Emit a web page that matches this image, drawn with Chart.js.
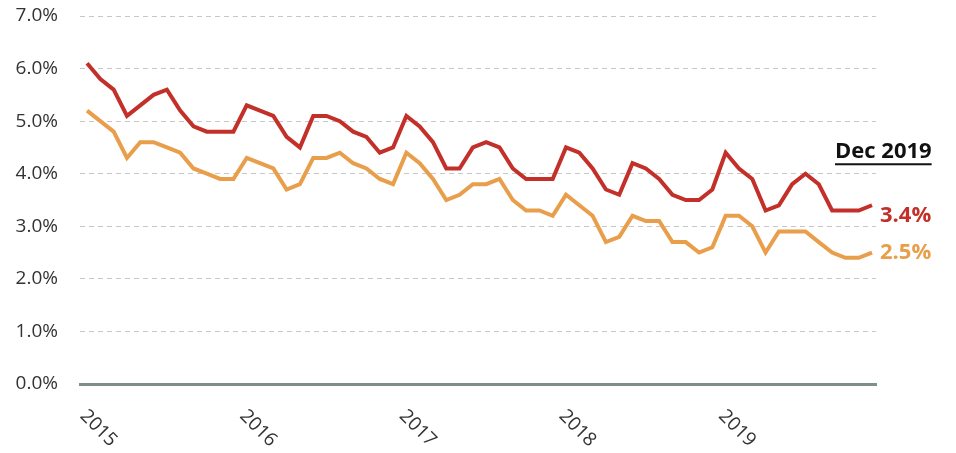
<!DOCTYPE html>
<html>
<head>
<meta charset="utf-8">
<script src="https://cdn.jsdelivr.net/npm/chart.js@4.4.1/dist/chart.umd.min.js"></script>
<style>
    html, body { margin: 0; padding: 0; background: #fff; }
    #wrap { width: 956px; height: 453px; }
</style>
</head>
<body>
<div id="wrap"><canvas id="chart" width="956" height="453"></canvas></div>
<script>
// Monthly rates, Jan 2015 – Dec 2019 (60 points each).
const YEARS = ['2015', '2016', '2017', '2018', '2019'];
const SERIES_HIGH = [
    6.1, 5.8, 5.6, 5.1, 5.3, 5.5, 5.6, 5.2, 4.9, 4.8, 4.8, 4.8,
    5.3, 5.2, 5.1, 4.7, 4.5, 5.1, 5.1, 5.0, 4.8, 4.7, 4.4, 4.5,
    5.1, 4.9, 4.6, 4.1, 4.1, 4.5, 4.6, 4.5, 4.1, 3.9, 3.9, 3.9,
    4.5, 4.4, 4.1, 3.7, 3.6, 4.2, 4.1, 3.9, 3.6, 3.5, 3.5, 3.7,
    4.4, 4.1, 3.9, 3.3, 3.4, 3.8, 4.0, 3.8, 3.3, 3.3, 3.3, 3.4,
];
const SERIES_LOW = [
    5.2, 5.0, 4.8, 4.3, 4.6, 4.6, 4.5, 4.4, 4.1, 4.0, 3.9, 3.9,
    4.3, 4.2, 4.1, 3.7, 3.8, 4.3, 4.3, 4.4, 4.2, 4.1, 3.9, 3.8,
    4.4, 4.2, 3.9, 3.5, 3.6, 3.8, 3.8, 3.9, 3.5, 3.3, 3.3, 3.2,
    3.6, 3.4, 3.2, 2.7, 2.8, 3.2, 3.1, 3.1, 2.7, 2.7, 2.5, 2.6,
    3.2, 3.2, 3.0, 2.5, 2.9, 2.9, 2.9, 2.7, 2.5, 2.4, 2.4, 2.5,
];
const Y_TICKS = [0, 1, 2, 3, 4, 5, 6, 7];
const END_LABEL = 'Dec 2019';

const RED = '#c3302a';
const ORANGE = '#e89e4a';
const FONT = "'Open Sans', 'DejaVu Sans', sans-serif";

const toPoints = arr => arr.map((v, i) => ({ x: i, y: v }));

// Rotated year labels (+45°) and the end-of-series annotations.
const overlayPlugin = {
    id: 'overlay',
    afterDraw(chart) {
        const ctx = chart.ctx;
        const xs = chart.scales.x;
        const ys = chart.scales.y;
        ctx.save();
        ctx.fillStyle = '#333';
        ctx.font = `19px ${FONT}`;
        ctx.textAlign = 'left';
        ctx.textBaseline = 'middle';
        YEARS.forEach((yr, i) => {
            const px = xs.getPixelForValue(i * 12);
            ctx.save();
            ctx.translate(px - 4, ys.bottom + 29);
            ctx.rotate(Math.PI / 4);
            ctx.fillText(yr, 0, 0);
            ctx.restore();
        });

        const last = SERIES_HIGH.length - 1;
        const lx = xs.getPixelForValue(last) + 8;
        ctx.font = `bold 22px ${FONT}`;
        ctx.fillStyle = RED;
        ctx.fillText(SERIES_HIGH[last].toFixed(1) + '%', lx, ys.getPixelForValue(SERIES_HIGH[last]) + 10);
        ctx.fillStyle = ORANGE;
        ctx.fillText(SERIES_LOW[last].toFixed(1) + '%', lx, ys.getPixelForValue(SERIES_LOW[last]));

        // "Dec 2019" header, underlined
        ctx.fillStyle = '#111';
        const hx = lx - 45;
        const hy = ys.getPixelForValue(SERIES_HIGH[last]) - 54;
        ctx.fillText(END_LABEL, hx, hy);
        const w = ctx.measureText(END_LABEL).width;
        ctx.fillRect(hx, hy + 12, w, 2);
        ctx.restore();
    }
};

new Chart(document.getElementById('chart'), {
    type: 'line',
    data: {
        datasets: [
            { label: 'High', data: toPoints(SERIES_HIGH), borderColor: RED, borderWidth: 4, pointRadius: 0, tension: 0 },
            { label: 'Low', data: toPoints(SERIES_LOW), borderColor: ORANGE, borderWidth: 4, pointRadius: 0, tension: 0 },
        ],
    },
    options: {
        responsive: false,
        animation: false,
        layout: { padding: { top: 0, right: 80, left: 0, bottom: 0 } },
        plugins: { legend: { display: false }, tooltip: { enabled: false } },
        scales: {
            x: {
                type: 'linear',
                min: -0.53,
                max: 59.3,
                grid: { display: false },
                border: { display: true, color: '#7d9088', width: 3 },
                ticks: { display: false },
                afterFit(scale) { scale.height = 69; },
            },
            y: {
                min: 0,
                max: 7,
                afterBuildTicks(scale) { scale.ticks = Y_TICKS.map(v => ({ value: v })); },
                afterFit(scale) {
                    scale.width = 80;
                    scale.paddingTop = 16;
                },
                border: { display: false, dash: [5, 4] },
                grid: { color: '#c8c8c8', lineWidth: 1, drawTicks: false },
                ticks: {
                    padding: 22,
                    color: '#333',
                    font: { family: FONT, size: 19 },
                    callback: v => v.toFixed(1) + '%',
                },
            },
        },
    },
    plugins: [overlayPlugin],
});
</script>
</body>
</html>
